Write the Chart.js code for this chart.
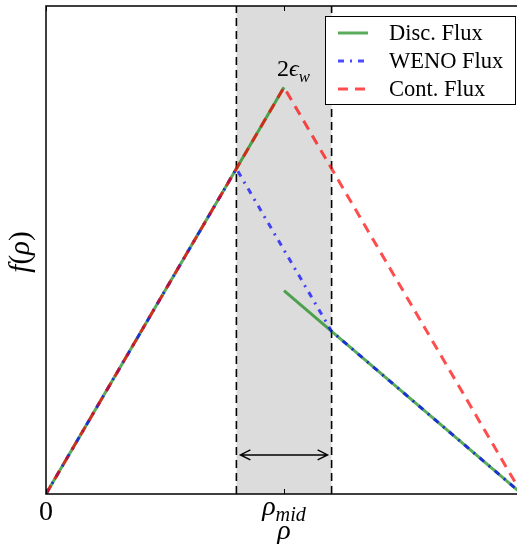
<!DOCTYPE html>
<html>
<head>
<meta charset="utf-8">
<script src="https://cdn.jsdelivr.net/npm/chart.js@4"></script>
<style>
  html, body { margin: 0; padding: 0; background: #fff; overflow: hidden; }
  #wrap { width: 530px; height: 544px; }
</style>
</head>
<body>
<div id="wrap"><canvas id="fluxChart" width="530" height="544"></canvas></div>
<script>
// flux curves, rho on x, f(rho) on y
const rhoDisc = [0, 0.5, 0.5, 0.5, 1];
const fluxDisc = [0, 0.5, null, 0.25, 0];
const rhoWeno = [0, 0.4, 0.6, 1];
const fluxWeno = [0, 0.4, 0.2, 0];
const rhoCont = [0, 0.5, 1];
const fluxCont = [0, 0.5, 0];

// shaded smoothing zone and its width marker
const bandLo = 0.4;
const bandHi = 0.6;
const arrowLevel = 0.048;
const peak = { rho: 0.5, flux: 0.5 };

const xTicks = [0, 0.5, 1];
const xTickLabels = [[['0', false]], [['ρ', true], ['mid', true, true]], [['1', false]]];
const xTickBase = [26, 21, 26];
const seriesNames = ['Disc. Flux', 'WENO Flux', 'Cont. Flux'];

const green = 'rgba(0,128,0,0.65)';
const blue = 'rgba(0,0,255,0.7)';
const red = 'rgba(255,0,0,0.7)';
const dashes = [[], [6, 6, 2, 6], [10, 7]];
const colors = [green, blue, red];

function pts(xs, ys) {
  return xs.map((x, i) => ({ x: x, y: ys[i] }));
}

// draw a run of text pieces: [text, italic, subscript]
function mathText(ctx, parts, x, y, size, align, sub) {
  sub = sub || { scale: 0.7, drop: 0.22 };
  const fontOf = p => (p[1] ? 'italic ' : '') + (p[2] ? size * sub.scale : size) + 'px "Liberation Serif"';
  const widths = parts.map(p => {
    ctx.font = fontOf(p);
    return ctx.measureText(p[0]).width;
  });
  const total = widths.reduce((a, b) => a + b, 0);
  let cx = align === 'center' ? x - total / 2 : x;
  ctx.textAlign = 'left';
  ctx.textBaseline = 'alphabetic';
  parts.forEach((p, i) => {
    ctx.font = fontOf(p);
    ctx.fillText(p[0], cx, p[2] ? y + size * sub.drop : y);
    cx += widths[i];
  });
}

const decor = {
  id: 'decor',
  beforeDatasetsDraw(chart) {
    const { ctx, chartArea: a, scales: { x } } = chart;
    const x0 = x.getPixelForValue(bandLo), x1 = x.getPixelForValue(bandHi);
    ctx.save();
    ctx.fillStyle = 'rgb(220,220,220)';
    ctx.fillRect(x0, a.top, x1 - x0, a.bottom - a.top);
    ctx.strokeStyle = '#000';
    ctx.lineWidth = 1.6;
    ctx.setLineDash([8, 5]);
    [x0, x1].forEach(px => {
      ctx.beginPath();
      ctx.moveTo(px, a.bottom);
      ctx.lineTo(px, a.top);
      ctx.stroke();
    });
    ctx.restore();
  },
  afterDatasetsDraw(chart) {
    const { ctx, chartArea: a, scales: { x, y } } = chart;
    ctx.save();
    ctx.fillStyle = '#000';
    ctx.strokeStyle = '#000';

    // frame and inward ticks
    ctx.lineWidth = 1.5;
    ctx.strokeRect(a.left, a.top, a.right - a.left, a.bottom - a.top);
    ctx.lineWidth = 1;
    xTicks.forEach(v => {
      const px = Math.round(x.getPixelForValue(v)) + 0.5;
      ctx.beginPath();
      ctx.moveTo(px, a.bottom); ctx.lineTo(px, a.bottom - 5);
      ctx.moveTo(px, a.top); ctx.lineTo(px, a.top + 5);
      ctx.stroke();
    });

    // double arrow across the band
    const ay = y.getPixelForValue(arrowLevel);
    const ax0 = x.getPixelForValue(bandLo) + 4, ax1 = x.getPixelForValue(bandHi) - 4;
    ctx.lineWidth = 1.4;
    ctx.beginPath();
    ctx.moveTo(ax0, ay); ctx.lineTo(ax1, ay);
    ctx.moveTo(ax0 + 10, ay - 5); ctx.lineTo(ax0, ay); ctx.lineTo(ax0 + 10, ay + 5);
    ctx.moveTo(ax1 - 10, ay - 5); ctx.lineTo(ax1, ay); ctx.lineTo(ax1 - 10, ay + 5);
    ctx.stroke();

    // peak label
    mathText(ctx, [['2', false], ['ϵ', true], ['w', true, true]],
      x.getPixelForValue(peak.rho) - 7, y.getPixelForValue(peak.flux) - 11, 24, 'left');

    // tick labels and axis titles
    xTicks.forEach((v, i) => {
      mathText(ctx, xTickLabels[i], x.getPixelForValue(v), a.bottom + xTickBase[i], 28, 'center',
        { scale: 0.72, drop: 0.2 });
    });
    mathText(ctx, [['ρ', true]], x.getPixelForValue(0.5), a.bottom + 45, 28, 'center');
    ctx.save();
    ctx.translate(29, (a.top + a.bottom) / 2 + 2);
    ctx.rotate(-Math.PI / 2);
    mathText(ctx, [['f', true], ['(', false], ['ρ', true], [')', false]], 0, 0, 29, 'center');
    ctx.restore();

    // legend box
    const lx = 325, ly = 16, lw = 190, lh = 88;
    ctx.fillStyle = '#fff';
    ctx.fillRect(lx, ly, lw, lh);
    ctx.lineWidth = 1;
    ctx.strokeRect(lx + 0.5, ly + 0.5, lw, lh);
    seriesNames.forEach((name, i) => {
      const ry = ly + 17 + i * 28;
      ctx.strokeStyle = colors[i];
      ctx.lineWidth = 3;
      ctx.setLineDash(dashes[i]);
      ctx.beginPath();
      ctx.moveTo(lx + 13, ry); ctx.lineTo(lx + 43, ry);
      ctx.stroke();
      ctx.setLineDash([]);
      ctx.fillStyle = '#000';
      ctx.font = '22.5px "Liberation Serif"';
      ctx.textAlign = 'left';
      ctx.textBaseline = 'middle';
      ctx.fillText(name, lx + 64, ry + 1);
    });
    ctx.restore();
  }
};

new Chart(document.getElementById('fluxChart'), {
  type: 'line',
  data: {
    datasets: [
      { label: seriesNames[0], data: pts(rhoDisc, fluxDisc), borderColor: green, borderWidth: 3, order: 3 },
      { label: seriesNames[1], data: pts(rhoWeno, fluxWeno), borderColor: blue, borderWidth: 3, borderDash: dashes[1], order: 2 },
      { label: seriesNames[2], data: pts(rhoCont, fluxCont), borderColor: red, borderWidth: 3, borderDash: dashes[2], order: 1 }
    ]
  },
  options: {
    responsive: false,
    animation: false,
    devicePixelRatio: 1,
    layout: { padding: { left: 46, top: 6, right: 8, bottom: 50 } },
    elements: { point: { radius: 0 }, line: { tension: 0, borderCapStyle: 'butt' } },
    spanGaps: false,
    scales: {
      x: { type: 'linear', min: 0, max: 1, display: false },
      y: { min: 0, max: 0.6, display: false }
    },
    plugins: { legend: { display: false }, tooltip: { enabled: false } }
  },
  plugins: [decor]
});
</script>
</body>
</html>
